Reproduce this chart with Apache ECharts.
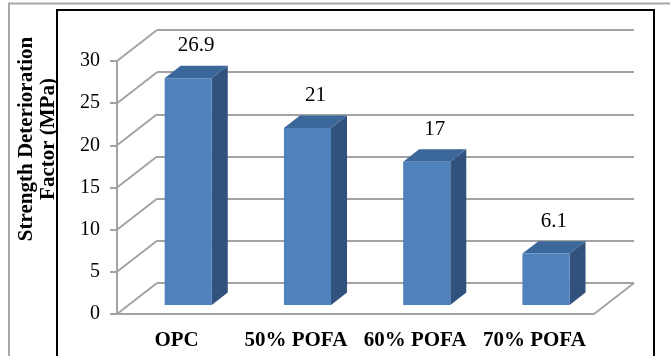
<!DOCTYPE html>
<html>
<head>
<meta charset="utf-8">
<script src="https://cdn.jsdelivr.net/npm/echarts@6/dist/echarts.min.js"></script>
<style>
  html, body { margin: 0; padding: 0; background: #fff; }
  #chart { width: 670px; height: 356px; }
</style>
</head>
<body>
<div id="chart"></div>
<script>
// Chart data
const categories = ['OPC', '50% POFA', '60% POFA', '70% POFA'];
const strength = [26.9, 21, 17, 6.1];
const yTicks = [0, 5, 10, 15, 20, 25, 30];

const SERIF = '"Times New Roman", "Liberation Serif", serif';
const GRID_GRAY = '#a3a3a3';

// Depth of the 3-D box (offset from front plane to back wall)
const DX = 40, DY = -31;
// Bars sit between these fractions of the depth
const BAR_FRONT = 0.29, BAR_DEPTH = 0.4, BAR_WIDTH = 0.395;

const chart = echarts.init(document.getElementById('chart'), null, { renderer: 'canvas' });

function renderWalls(params, api) {
  const v = api.value(1);
  const p = api.coord([0, v]);
  const cs = params.coordSys;
  const x0 = cs.x, y = p[1];
  const style = { stroke: GRID_GRAY, lineWidth: 2, fill: null };
  const children = [{
    type: 'line',
    shape: { x1: x0, y1: y, x2: x0 + DX, y2: y + DY },
    style: style
  }];
  if (v === 0) {
    const xr = cs.x + cs.width;
    children.push({
      type: 'line',
      shape: { x1: xr, y1: y, x2: xr + DX, y2: y + DY },
      style: style
    });
  }
  return { type: 'group', children: children };
}

function renderBar(params, api) {
  const i = api.value(0);
  const v = api.value(1);
  const base = api.coord([i, 0]);
  const top = api.coord([i, v]);
  const band = api.size([1, 0])[0];
  const bw = band * BAR_WIDTH;
  const sx = DX * BAR_FRONT, sy = DY * BAR_FRONT;
  const ddx = DX * BAR_DEPTH, ddy = DY * BAR_DEPTH;
  const xl = base[0] - bw / 2 + sx;
  const xr = xl + bw;
  const yb = base[1] + sy;
  const yt = top[1] + sy;
  return {
    type: 'group',
    children: [
      {
        type: 'polygon',
        shape: { points: [[xr, yt], [xr + ddx, yt + ddy], [xr + ddx, yb + ddy], [xr, yb]] },
        style: { fill: '#30527d' }
      },
      {
        type: 'polygon',
        shape: { points: [[xl, yt], [xl + ddx, yt + ddy], [xr + ddx, yt + ddy], [xr, yt]] },
        style: { fill: '#3c679b' }
      },
      {
        type: 'rect',
        shape: { x: xl, y: yt, width: bw, height: yb - yt },
        style: { fill: '#4f81bd' }
      },
      {
        type: 'text',
        x: xl + (bw + ddx) / 2,
        y: yt + ddy - 20,
        style: {
          text: String(v),
          font: '21px ' + SERIF,
          fill: '#000',
          align: 'center',
          verticalAlign: 'middle'
        }
      }
    ]
  };
}

const option = {
  animation: false,
  grid: [
    { left: 117, right: 76, top: 61, bottom: 42 },
    { left: 157, right: 36, top: 30, bottom: 73 }
  ],
  xAxis: [
    {
      type: 'category', gridIndex: 0, data: categories,
      axisLine: { lineStyle: { color: GRID_GRAY, width: 2 } },
      axisTick: { length: 6, lineStyle: { color: GRID_GRAY, width: 2 } },
      axisLabel: {
        interval: 0, hideOverlap: false,
        color: '#000', fontFamily: SERIF, fontWeight: 'bold', fontSize: 21, margin: 16
      }
    },
    {
      type: 'category', gridIndex: 1, data: categories, show: false
    }
  ],
  yAxis: [
    {
      type: 'value', gridIndex: 0, min: 0, max: 30, interval: 5,
      axisLine: { show: true, lineStyle: { color: GRID_GRAY, width: 2 } },
      axisTick: { show: true, length: 7, lineStyle: { color: GRID_GRAY, width: 2 } },
      splitLine: { show: false },
      axisLabel: { color: '#000', fontFamily: SERIF, fontSize: 20, margin: 17 }
    },
    {
      type: 'value', gridIndex: 1, min: 0, max: 30, interval: 5,
      axisLine: { show: false }, axisTick: { show: false }, axisLabel: { show: false },
      splitLine: { show: true, lineStyle: { color: GRID_GRAY, width: 2 } }
    }
  ],
  graphic: [
    {
      type: 'rect', z: 0, silent: true,
      shape: { x: 9, y: 3.5, width: 720, height: 420 },
      style: { fill: null, stroke: '#a8a8a8', lineWidth: 2 }
    },
    {
      type: 'rect', z: 1, silent: true,
      shape: { x: 57, y: 10, width: 597, height: 420 },
      style: { fill: null, stroke: '#000', lineWidth: 2 }
    },
    {
      type: 'text', z: 10, silent: true,
      x: 37.5, y: 139, rotation: Math.PI / 2,
      style: {
        text: 'Strength Deterioration\nFactor (MPa)',
        font: 'bold 21px ' + SERIF,
        lineHeight: 22,
        fill: '#000',
        align: 'center',
        verticalAlign: 'middle'
      }
    }
  ],
  series: [
    {
      type: 'custom', name: 'walls', xAxisIndex: 0, yAxisIndex: 0,
      renderItem: renderWalls,
      data: yTicks.map(v => [0, v]),
      silent: true
    },
    {
      type: 'custom', name: 'Strength', xAxisIndex: 0, yAxisIndex: 0,
      renderItem: renderBar,
      data: strength.map((v, i) => [i, v]),
      z: 5
    }
  ]
};

chart.setOption(option);
</script>
</body>
</html>
